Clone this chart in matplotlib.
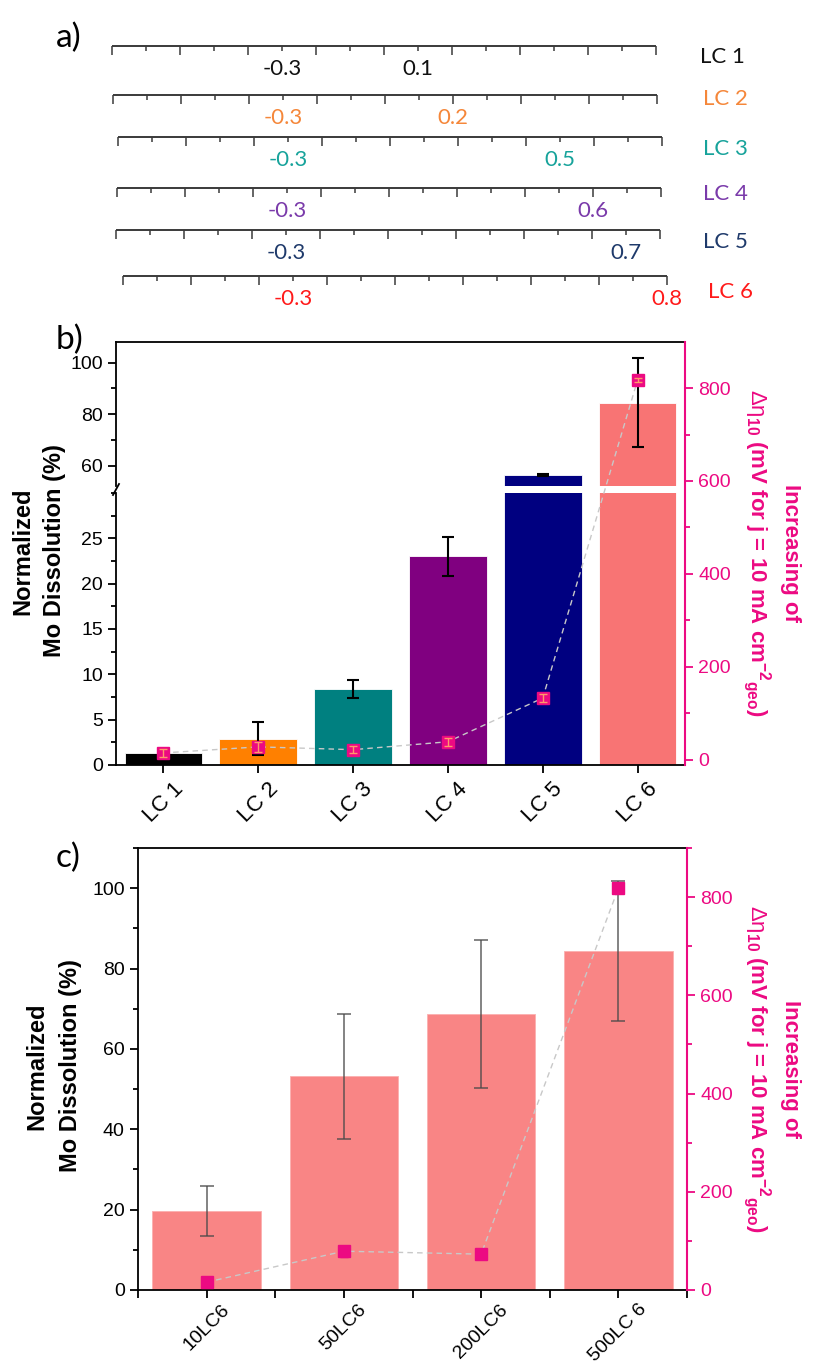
import numpy as np
import matplotlib
matplotlib.use('Agg')
import matplotlib.pyplot as plt
from matplotlib.lines import Line2D
from matplotlib.ticker import MultipleLocator

plt.rcParams['font.family'] = ['Liberation Sans', 'DejaVu Sans']
plt.rcParams['mathtext.fontset'] = 'custom'
plt.rcParams['mathtext.rm'] = 'Liberation Sans'
plt.rcParams['mathtext.it'] = 'Liberation Sans'
plt.rcParams['mathtext.bf'] = 'Liberation Sans:bold'
plt.rcParams['mathtext.default'] = 'regular'

# --- panel a : potential windows of the load cycles
lc_names = ['LC 1', 'LC 2', 'LC 3', 'LC 4', 'LC 5', 'LC 6']
lc_lower = [-0.3, -0.3, -0.3, -0.3, -0.3, -0.3]
lc_upper = [0.1, 0.2, 0.5, 0.6, 0.7, 0.8]
lc_colors = ['#111111', '#F5873A', '#17A39B', '#7A3AAA', '#1F3A6B', '#FF1A1A']

# --- panel b : Mo dissolution and overpotential increase per LC
b_diss = [1.3, 2.9, 8.4, 23.0, 56.5, 84.5]
b_diss_err = [0.1, 1.8, 1.0, 2.1, 0.3, 17.3]
b_eta = [15, 28, 22, 39, 133, 817]
b_eta_err = [9, 10, 8, 9, 8, 5]
b_colors = ['#000000', '#FF8000', '#008080', '#800080', '#000080', '#F87474']

# --- panel c : number of cycles of LC 6
c_names = ['10LC6', '50LC6', '200LC6', '500LC 6']
c_diss = [19.7, 53.2, 68.7, 84.3]
c_diss_err = [6.2, 15.5, 18.4, 17.4]
c_eta = [16, 79, 73, 818]
c_eta_err = [4, 11, 10, 0]

PINK = '#EC0A82'
W, H = 818, 1369
LABEL_FONT = ['Lato', 'DejaVu Sans']


def rect(l, t, r, b):
    # pixel box -> figure fraction
    return [l / W, 1 - b / H, (r - l) / W, (b - t) / H]


fig = plt.figure(figsize=(W / 100, H / 100), dpi=100)

# ---------------- panel a
ax_a = fig.add_axes(rect(0, 0, 818, 315))
px_per_v = 340.0
v0_px = 112  # pixel position of -0.8 V on the first scale
ax_a.set_xlim(-0.8 - v0_px / px_per_v, -0.8 + (W - v0_px) / px_per_v)
ax_a.set_ylim(315, 0)
ax_a.axis('off')

row_y = [46, 95, 137, 188, 230, 276]
row_shift = [0, 1, 6, 5, 4, 11]
name_y = [57, 99, 149, 194, 242, 292]
name_x = [700, 703, 703, 703, 703, 708]
for i in range(6):
    s = row_shift[i] / px_per_v
    y0 = row_y[i]
    ax_a.hlines(y0, -0.8 + s, 0.8 + s, color='#3a3a3a', lw=1.4)
    major = np.linspace(-0.8, 0.8, 9) + s
    minor = np.linspace(-0.7, 0.7, 8) + s
    ax_a.vlines(major, y0, y0 + 9, color='#3a3a3a', lw=1.1)
    ax_a.vlines(minor, y0, y0 + 5, color='#3a3a3a', lw=1.1)
    for v in (lc_lower[i], lc_upper[i]):
        ax_a.text(v + s, y0 + 23, f'{v:.1f}', color=lc_colors[i], fontsize=16,
                  family=LABEL_FONT, ha='center', va='center')
    ax_a.text(-0.8 + (name_x[i] - v0_px) / px_per_v, name_y[i], lc_names[i],
              color=lc_colors[i], fontsize=16, family=LABEL_FONT,
              ha='left', va='center')

for lab, (px, py) in zip(['a)', 'b)', 'c)'], [(69, 38), (70, 340), (68, 858)]):
    fig.text(px / W, 1 - py / H, lab, fontsize=24, family=LABEL_FONT,
             ha='center', va='center')


def style_left(ax):
    ax.tick_params(axis='both', which='major', direction='out', length=6,
                   width=1.3, labelsize=14)
    ax.tick_params(axis='both', which='minor', direction='out', length=3.5,
                   width=1.3)
    for sp in ax.spines.values():
        sp.set_linewidth(1.3)
    ax.spines['right'].set_visible(False)


def style_right(ax):
    ax.patch.set_visible(False)
    for k in ('left', 'top', 'bottom'):
        ax.spines[k].set_visible(False)
    ax.spines['right'].set_color(PINK)
    ax.spines['right'].set_linewidth(1.5)
    ax.yaxis.tick_right()
    ax.set_xticks([])
    ax.tick_params(axis='y', which='major', direction='out', length=6, width=1.3,
                   color=PINK, labelcolor=PINK, labelsize=14)
    ax.tick_params(axis='y', which='minor', direction='out', length=3.5,
                   width=1.3, color=PINK)
    ax.yaxis.set_major_locator(MultipleLocator(200))
    ax.yaxis.set_minor_locator(MultipleLocator(100))


def right_label(yc):
    fig.text(790 / W, 1 - yc / H, 'Increasing of', rotation=270, color=PINK,
             fontsize=16, fontweight='bold', ha='center', va='center')
    fig.text(757 / W, 1 - yc / H,
             r'$\mathrm{\Delta\eta}_{\mathbf{10}}$ (mV for j = 10 mA cm$^{\mathbf{-2}}{}_{\mathbf{geo}}$)',
             rotation=270, color=PINK, fontsize=16, fontweight='bold',
             ha='center', va='center')


def left_label(xs, yc):
    fig.text(xs[0] / W, 1 - yc / H, 'Normalized', rotation=90, fontsize=17,
             fontweight='bold', ha='center', va='center')
    fig.text(xs[1] / W, 1 - yc / H, 'Mo Dissolution (%)', rotation=90,
             fontsize=17, fontweight='bold', ha='center', va='center')


# ---------------- panel b (broken left axis)
xb = np.arange(1, len(lc_names) + 1)
ax_top = fig.add_axes(rect(116, 342, 685, 486))
ax_bot = fig.add_axes(rect(116, 493, 685, 765))
for ax in (ax_top, ax_bot):
    ax.bar(xb, b_diss, width=0.82, color=b_colors, edgecolor='white', lw=0.6)
    ax.errorbar(xb, b_diss, yerr=b_diss_err, fmt='none', ecolor='black',
                elinewidth=1.5, capsize=4, capthick=1.5)
    ax.set_xlim(0.5, 6.5)
    style_left(ax)
ax_top.set_ylim(52.2, 108)
ax_top.yaxis.set_major_locator(MultipleLocator(20))
ax_top.yaxis.set_minor_locator(MultipleLocator(10))
ax_top.spines['bottom'].set_visible(False)
ax_top.set_xticks([])
ax_bot.set_ylim(0, 30)
ax_bot.yaxis.set_major_locator(MultipleLocator(5))
ax_bot.yaxis.set_minor_locator(MultipleLocator(2.5))
ax_bot.spines['top'].set_visible(False)
ax_bot.set_yticks([0, 5, 10, 15, 20, 25])
ax_bot.set_xticks(xb)
ax_bot.set_xticklabels(lc_names, rotation=45, ha='center', va='top', fontsize=16)

# break mark on the left spine
fig.add_artist(Line2D([113 / W, 119 / W], [1 - 495 / H, 1 - 484 / H],
                      color='black', lw=1.3))

ax_br = fig.add_axes(rect(116, 342, 685, 765))
ax_br.set_xlim(0.5, 6.5)
ax_br.set_ylim(-11, 899)
ax_br.plot(xb, b_eta, ls='--', color='#C8C8C8', lw=1, dashes=(4, 3), zorder=2)
ax_br.plot(xb, b_eta, 's', color=PINK, ms=8, zorder=3)
ax_br.errorbar(xb, b_eta, yerr=b_eta_err, fmt='none', ecolor='#FF9A6A',
               elinewidth=1, capsize=3, zorder=4)
style_right(ax_br)

left_label((23, 54), 551)
right_label(553)

# ---------------- panel c
xc = np.arange(1, len(c_names) + 1)
ax_c = fig.add_axes(rect(138, 848, 687, 1290))
ax_c.bar(xc, c_diss, width=0.79, color='#F98585', edgecolor='#FBB0B0', lw=0.6)
ax_c.errorbar(xc, c_diss, yerr=c_diss_err, fmt='none', ecolor='#4a4a4a',
              elinewidth=1.2, capsize=5, capthick=1.2, alpha=0.8)
ax_c.set_xlim(0.5, 4.5)
ax_c.set_ylim(0, 110)
style_left(ax_c)
ax_c.yaxis.set_major_locator(MultipleLocator(20))
ax_c.yaxis.set_minor_locator(MultipleLocator(10))
ax_c.xaxis.set_minor_locator(MultipleLocator(0.5))
ax_c.set_xticks(xc)
ax_c.set_xticklabels(c_names, rotation=45, ha='center', va='top', fontsize=14)
ax_c.tick_params(axis='x', which='major', pad=2)
ax_c.tick_params(axis='x', which='minor', length=6)

ax_cr = fig.add_axes(rect(138, 848, 687, 1290))
ax_cr.set_xlim(0.5, 4.5)
ax_cr.set_ylim(0, 900)
ax_cr.plot(xc, c_eta, ls='--', color='#C8C8C8', lw=1, dashes=(4, 3), zorder=2)
ax_cr.errorbar(xc, c_eta, yerr=c_eta_err, fmt='s', color=PINK, ms=8,
               ecolor=PINK, elinewidth=1, capsize=3, zorder=3)
style_right(ax_cr)

left_label((37, 70), 1066)
right_label(1069)

fig.savefig('out.png', dpi=100)
